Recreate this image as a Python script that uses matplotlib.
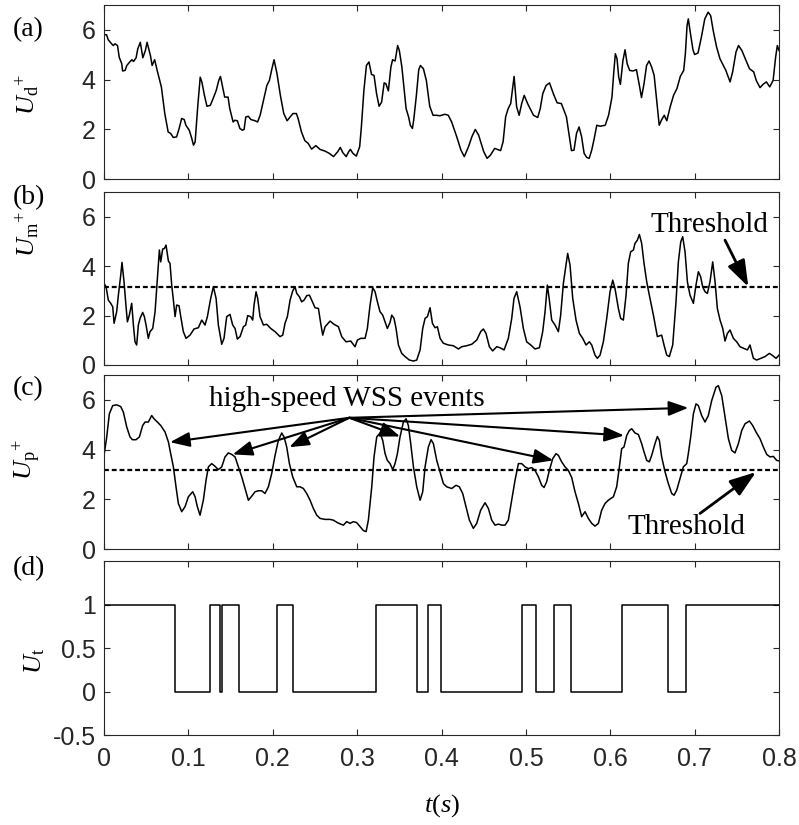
import matplotlib
matplotlib.use("Agg")
import matplotlib.pyplot as plt
from matplotlib.ticker import FuncFormatter

plt.rcParams['font.family'] = 'Liberation Sans'
plt.rcParams['mathtext.fontset'] = 'custom'
plt.rcParams['mathtext.rm'] = 'Liberation Serif'
plt.rcParams['mathtext.it'] = 'Liberation Serif:italic'
plt.rcParams['axes.unicode_minus'] = False

# ---- data ----
# (a) U_d+
t_a = [0.000, 0.003, 0.005, 0.009, 0.011, 0.013, 0.016, 0.018, 0.021, 0.022, 0.025, 0.027, 0.031, 0.033,
       0.035, 0.038, 0.040, 0.043, 0.046, 0.049, 0.051, 0.055, 0.057, 0.060, 0.063, 0.066, 0.068, 0.072,
       0.076, 0.079, 0.082, 0.086, 0.089, 0.092, 0.095, 0.097, 0.101, 0.104, 0.106, 0.108, 0.111, 0.114,
       0.116, 0.119, 0.122, 0.126, 0.130, 0.133, 0.136, 0.138, 0.141, 0.143, 0.147, 0.149, 0.153, 0.155,
       0.158, 0.161, 0.164, 0.166, 0.168, 0.171, 0.174, 0.179, 0.182, 0.185, 0.189, 0.193, 0.196, 0.199,
       0.2015, 0.205, 0.209, 0.213, 0.217, 0.2205, 0.224, 0.228, 0.230, 0.234, 0.238, 0.242, 0.246, 0.251,
       0.256, 0.262, 0.267, 0.272, 0.277, 0.280, 0.283, 0.287, 0.290, 0.292, 0.295, 0.299, 0.303, 0.305,
       0.308, 0.311, 0.314, 0.317, 0.320, 0.323, 0.326, 0.329, 0.332, 0.334, 0.337, 0.340, 0.342, 0.345,
       0.348, 0.350, 0.353, 0.356, 0.358, 0.361, 0.363, 0.3655, 0.367, 0.370, 0.373, 0.375, 0.3785, 0.382,
       0.386, 0.390, 0.394, 0.398, 0.404, 0.408, 0.412, 0.418, 0.423, 0.427, 0.432, 0.436, 0.440, 0.444,
       0.450, 0.454, 0.458, 0.463, 0.466, 0.470, 0.473, 0.476, 0.479, 0.482, 0.486, 0.489, 0.492, 0.495,
       0.498, 0.502, 0.505, 0.509, 0.514, 0.517, 0.520, 0.524, 0.528, 0.5325, 0.537, 0.542, 0.548, 0.5515,
       0.554, 0.557, 0.560, 0.563, 0.566, 0.569, 0.572, 0.575, 0.578, 0.581, 0.584, 0.588, 0.594, 0.598,
       0.602, 0.604, 0.606, 0.608, 0.610, 0.612, 0.615, 0.6175, 0.620, 0.623, 0.627, 0.631, 0.6345, 0.637,
       0.640, 0.643, 0.646, 0.649, 0.652, 0.655, 0.658, 0.661, 0.664, 0.667, 0.671, 0.675, 0.679, 0.683,
       0.687, 0.689, 0.691, 0.6925, 0.6945, 0.698, 0.700, 0.704, 0.708, 0.712, 0.716, 0.719, 0.722, 0.726,
       0.730, 0.734, 0.737, 0.742, 0.745, 0.749, 0.752, 0.756, 0.760, 0.765, 0.770, 0.773, 0.7775, 0.781,
       0.785, 0.789, 0.793, 0.796, 0.798, 0.800]
u_a = [5.81, 5.80, 5.60, 5.44, 5.37, 5.44, 5.37, 4.90, 4.64, 4.35, 4.37, 4.57, 4.73, 4.80,
       4.73, 4.88, 5.24, 5.50, 4.88, 5.17, 5.50, 4.97, 4.57, 4.80, 4.37, 3.97, 3.70, 2.64,
       1.90, 1.84, 1.68, 1.70, 2.04, 2.44, 2.40, 2.17, 1.97, 1.64, 1.37, 1.50, 2.90, 4.10,
       3.90, 3.37, 2.93, 2.97, 3.30, 3.57, 3.97, 4.13, 3.64, 3.30, 3.30, 2.84, 2.30, 2.37,
       2.35, 2.04, 1.97, 2.00, 2.50, 2.53, 2.40, 2.35, 2.30, 2.57, 3.17, 3.77, 3.97, 4.44,
       4.80, 4.24, 3.37, 2.64, 2.35, 2.50, 2.64, 2.64, 2.44, 1.90, 1.55, 1.44, 1.21, 1.35,
       1.20, 1.13, 1.04, 0.91, 1.11, 1.28, 1.07, 0.91, 1.11, 1.20, 1.04, 0.93, 1.31, 2.10,
       3.57, 4.57, 4.71, 4.21, 4.17, 3.44, 2.93, 3.10, 3.87, 3.84, 3.55, 4.51, 4.80, 4.75,
       5.37, 5.17, 4.51, 3.51, 2.84, 2.50, 2.17, 2.04, 2.37, 3.30, 4.40, 4.57, 4.44, 3.97,
       2.93, 2.57, 2.57, 2.55, 2.61, 2.57, 2.30, 1.71, 1.17, 0.91, 1.31, 1.71, 2.00, 1.77,
       1.11, 0.84, 0.97, 1.24, 1.20, 1.15, 1.51, 2.51, 2.84, 3.04, 4.13, 2.91, 2.57, 3.04,
       3.37, 3.04, 2.84, 2.57, 2.48, 2.84, 3.44, 3.77, 3.87, 3.44, 3.07, 3.04, 2.51, 1.71,
       1.15, 1.17, 1.84, 2.10, 1.71, 1.04, 0.88, 0.84, 1.17, 1.64, 2.17, 2.13, 2.17, 2.57,
       3.30, 4.24, 5.04, 4.84, 4.10, 3.81, 4.77, 5.20, 4.64, 4.37, 4.35, 4.40, 3.77, 3.28,
       3.84, 4.57, 4.75, 4.51, 4.17, 3.17, 2.17, 2.40, 2.57, 2.35, 2.91, 3.37, 3.64, 4.13,
       4.37, 5.04, 6.17, 6.44, 5.97, 5.20, 5.01, 5.07, 5.71, 6.44, 6.71, 6.57, 5.97, 5.31,
       4.84, 4.57, 4.37, 3.91, 4.31, 5.11, 5.37, 5.17, 4.84, 4.44, 4.31, 3.97, 3.68, 3.81,
       3.91, 3.71, 3.97, 4.91, 5.37, 5.17]

# (b) U_m+
t_b = [0.000, 0.0024, 0.0051, 0.0079, 0.0103, 0.0119, 0.0150, 0.0170, 0.0198, 0.0213, 0.0237, 0.0261,
       0.0277, 0.0300, 0.0328, 0.0348, 0.0367, 0.0387, 0.0407, 0.0427, 0.0458, 0.0478, 0.0498, 0.0525,
       0.0545, 0.0577, 0.0605, 0.0632, 0.0656, 0.0672, 0.0695, 0.0715, 0.0735, 0.0763, 0.0782, 0.0802,
       0.0822, 0.0842, 0.0861, 0.0889, 0.0913, 0.0940, 0.0972, 0.1019, 0.1067, 0.1118, 0.1158, 0.1197,
       0.1225, 0.1264, 0.1296, 0.1328, 0.1355, 0.1395, 0.1422, 0.1454, 0.1493, 0.1525, 0.1553, 0.1580,
       0.1612, 0.1652, 0.1679, 0.1703, 0.1738, 0.1762, 0.1778, 0.1802, 0.1821, 0.1849, 0.1889, 0.1928,
       0.1976, 0.2027, 0.2086, 0.2118, 0.2145, 0.2173, 0.2205, 0.2236, 0.2264, 0.2284, 0.2315, 0.2343,
       0.2371, 0.2402, 0.2434, 0.2461, 0.2501, 0.2541, 0.2568, 0.2592, 0.2620, 0.2679, 0.2726, 0.2778,
       0.2817, 0.2868, 0.2924, 0.2975, 0.3003, 0.3042, 0.3094, 0.3121, 0.3153, 0.3185, 0.3212, 0.3240,
       0.3271, 0.3303, 0.3331, 0.3358, 0.3390, 0.3410, 0.3437, 0.3461, 0.3489, 0.3528, 0.3568, 0.3619,
       0.3667, 0.3706, 0.3746, 0.3777, 0.3805, 0.3833, 0.3864, 0.3892, 0.3923, 0.3951, 0.3983, 0.4022,
       0.4081, 0.4140, 0.4200, 0.4239, 0.4298, 0.4358, 0.4417, 0.4464, 0.4496, 0.4527, 0.4567, 0.4606,
       0.4654, 0.4693, 0.4741, 0.4792, 0.4832, 0.4859, 0.4891, 0.4930, 0.4970, 0.5009, 0.5057, 0.5108,
       0.5160, 0.5199, 0.5227, 0.5254, 0.5278, 0.5306, 0.5345, 0.5385, 0.5412, 0.5444, 0.5476, 0.5495,
       0.5523, 0.5555, 0.5594, 0.5634, 0.5673, 0.5713, 0.5752, 0.5780, 0.5819, 0.5847, 0.5879, 0.5918,
       0.5958, 0.5997, 0.6029, 0.6056, 0.6096, 0.6123, 0.6155, 0.6187, 0.6214, 0.6242, 0.6274, 0.6293,
       0.6321, 0.6345, 0.6372, 0.6400, 0.6432, 0.6463, 0.6511, 0.6558, 0.6609, 0.6637, 0.6669, 0.6700,
       0.6740, 0.6779, 0.6807, 0.6835, 0.6858, 0.6886, 0.6914, 0.6945, 0.6985, 0.7016, 0.7044, 0.7071,
       0.7095, 0.7123, 0.7151, 0.7182, 0.7214, 0.7242, 0.7269, 0.7301, 0.7333, 0.7360, 0.7388, 0.7419,
       0.7459, 0.7498, 0.7538, 0.7585, 0.7625, 0.7656, 0.7696, 0.7735, 0.7783, 0.7834, 0.7886, 0.7925,
       0.7965, 0.8000]
u_b = [3.31, 3.17, 2.63, 2.50, 2.36, 1.69, 2.16, 2.83, 3.64, 4.16, 3.37, 2.36,
       1.75, 2.02, 2.50, 1.62, 0.94, 0.81, 1.62, 1.89, 2.13, 1.96, 1.62, 1.08,
       1.35, 1.48, 2.16, 3.51, 4.66, 4.18, 4.70, 4.72, 4.86, 4.21, 4.12, 3.24,
       2.63, 1.96, 2.43, 2.40, 1.89, 1.35, 1.08, 1.21, 1.46, 1.51, 1.82, 1.62,
       1.96, 2.70, 3.17, 2.70, 1.62, 0.84, 1.08, 1.96, 2.05, 1.62, 1.48, 1.05,
       1.15, 1.55, 1.62, 2.00, 1.96, 1.82, 2.43, 2.97, 2.70, 1.96, 1.62, 1.65,
       1.48, 1.35, 1.15, 1.21, 1.69, 1.96, 2.63, 3.00, 3.17, 2.90, 2.77, 2.56,
       2.63, 2.81, 2.83, 2.63, 2.32, 2.29, 1.69, 1.21, 1.55, 1.78, 1.65, 1.55,
       1.15, 0.94, 0.97, 0.74, 1.01, 1.08, 1.08, 1.48, 2.43, 3.13, 2.97, 2.56,
       2.16, 2.02, 1.75, 1.48, 1.73, 2.02, 1.89, 1.48, 0.81, 0.47, 0.34, 0.20,
       0.16, 0.20, 0.61, 1.48, 1.89, 1.96, 2.32, 1.69, 1.51, 1.55, 1.08, 0.88,
       0.81, 0.78, 0.65, 0.74, 0.78, 0.84, 1.01, 1.35, 1.46, 1.28, 0.74, 0.57,
       0.74, 0.70, 0.61, 1.08, 1.89, 2.70, 2.97, 2.36, 1.48, 0.94, 0.81, 0.65,
       0.70, 1.35, 2.16, 3.24, 2.63, 1.82, 1.62, 1.35, 2.02, 3.31, 4.05, 4.52,
       4.05, 2.70, 1.82, 1.28, 1.08, 0.81, 0.94, 0.81, 0.40, 0.27, 0.40, 0.94,
       1.89, 2.97, 3.44, 3.10, 2.29, 1.89, 1.82, 2.83, 4.12, 4.59, 4.66, 4.93,
       5.06, 5.29, 4.93, 4.12, 3.37, 2.83, 2.02, 1.15, 1.21, 0.81, 0.40, 0.34,
       0.81, 2.56, 4.18, 4.99, 5.20, 4.59, 3.37, 2.83, 2.50, 3.24, 3.78, 3.58,
       3.17, 2.97, 2.90, 3.37, 4.18, 3.37, 2.29, 1.82, 1.48, 0.97, 1.28, 1.42,
       1.08, 0.94, 0.74, 0.67, 0.61, 0.81, 0.27, 0.20, 0.27, 0.34, 0.47, 0.38,
       0.27, 0.40]

# (c) U_p+
t_c = [0.000, 0.0032, 0.0063, 0.0103, 0.0150, 0.0198, 0.0229, 0.0269, 0.0308, 0.0336, 0.0379, 0.0419,
       0.0458, 0.0486, 0.0525, 0.0565, 0.0593, 0.0632, 0.0672, 0.0723, 0.0763, 0.0790, 0.0822, 0.0853,
       0.0881, 0.0921, 0.0960, 0.1000, 0.1051, 0.1079, 0.1106, 0.1138, 0.1177, 0.1209, 0.1237, 0.1276,
       0.1316, 0.1355, 0.1395, 0.1434, 0.1474, 0.1513, 0.1553, 0.1592, 0.1632, 0.1671, 0.1711, 0.1750,
       0.1790, 0.1829, 0.1869, 0.1908, 0.1948, 0.1987, 0.2027, 0.2066, 0.2106, 0.2134, 0.2165, 0.2197,
       0.2236, 0.2284, 0.2323, 0.2363, 0.2402, 0.2442, 0.2481, 0.2521, 0.2560, 0.2620, 0.2679, 0.2718,
       0.2766, 0.2805, 0.2837, 0.2876, 0.2916, 0.2955, 0.2995, 0.3034, 0.3074, 0.3106, 0.3133, 0.3173,
       0.3200, 0.3232, 0.3271, 0.3303, 0.3331, 0.3358, 0.3390, 0.3422, 0.3449, 0.3477, 0.3508, 0.3548,
       0.3580, 0.3607, 0.3635, 0.3667, 0.3706, 0.3746, 0.3777, 0.3805, 0.3844, 0.3876, 0.3904, 0.3943,
       0.3983, 0.4022, 0.4061, 0.4121, 0.4172, 0.4211, 0.4251, 0.4290, 0.4330, 0.4377, 0.4417, 0.4464,
       0.4516, 0.4555, 0.4595, 0.4634, 0.4674, 0.4713, 0.4753, 0.4792, 0.4832, 0.4871, 0.4911, 0.4950,
       0.4990, 0.5029, 0.5069, 0.5108, 0.5148, 0.5187, 0.5215, 0.5246, 0.5278, 0.5318, 0.5357, 0.5385,
       0.5424, 0.5464, 0.5503, 0.5543, 0.5582, 0.5622, 0.5661, 0.5701, 0.5740, 0.5780, 0.5819, 0.5859,
       0.5898, 0.5938, 0.5977, 0.6037, 0.6076, 0.6108, 0.6135, 0.6163, 0.6195, 0.6226, 0.6254, 0.6293,
       0.6333, 0.6372, 0.6400, 0.6432, 0.6463, 0.6491, 0.6530, 0.6558, 0.6582, 0.6609, 0.6649, 0.6688,
       0.6728, 0.6756, 0.6787, 0.6827, 0.6866, 0.6906, 0.6925, 0.6953, 0.6985, 0.7016, 0.7044, 0.7083,
       0.7123, 0.7162, 0.7202, 0.7253, 0.7281, 0.7321, 0.7360, 0.7400, 0.7439, 0.7478, 0.7518, 0.7558,
       0.7597, 0.7649, 0.7688, 0.7727, 0.7775, 0.7814, 0.7854, 0.7893, 0.7933, 0.7972, 0.8000]
u_c = [3.77, 4.51, 5.44, 5.77, 5.80, 5.73, 5.51, 4.91, 4.51, 4.40, 4.40, 4.51,
       4.97, 5.11, 5.11, 5.37, 5.24, 5.11, 4.97, 4.71, 4.31, 3.84, 3.31, 2.51,
       1.84, 1.51, 1.71, 2.11, 2.31, 2.11, 1.71, 1.37, 1.97, 2.77, 3.31, 3.44,
       3.33, 3.20, 3.31, 3.71, 3.87, 3.81, 3.71, 3.31, 2.91, 2.44, 1.97, 2.13,
       2.31, 2.35, 2.35, 2.24, 2.51, 3.04, 3.77, 4.37, 4.67, 4.51, 4.11, 3.44,
       2.91, 2.51, 2.51, 2.44, 2.24, 1.97, 1.64, 1.37, 1.24, 1.20, 1.20, 1.17,
       1.07, 1.01, 0.97, 1.11, 1.04, 1.11, 1.07, 0.91, 0.75, 0.71, 1.17, 2.51,
       3.71, 4.51, 4.67, 4.37, 3.84, 3.57, 3.44, 3.20, 3.44, 3.84, 4.51, 5.11,
       5.24, 4.97, 4.24, 3.31, 2.51, 1.97, 2.31, 3.31, 4.11, 4.40, 4.24, 3.57,
       3.10, 2.64, 2.51, 2.44, 2.57, 2.51, 2.24, 1.71, 1.17, 0.84, 1.04, 1.57,
       1.87, 1.64, 1.17, 0.97, 1.01, 0.97, 0.97, 1.17, 1.97, 2.77, 3.44, 3.44,
       3.31, 3.24, 3.28, 3.17, 2.91, 2.57, 2.48, 2.71, 3.17, 3.64, 3.84, 3.77,
       3.51, 3.31, 3.17, 2.88, 2.31, 1.84, 1.31, 1.51, 1.24, 1.04, 0.93, 1.04,
       1.57, 1.84, 1.97, 2.11, 2.51, 3.31, 4.04, 4.11, 4.57, 4.77, 4.84, 4.67,
       4.61, 4.24, 3.91, 3.57, 3.51, 3.77, 4.24, 4.53, 4.37, 3.71, 3.11, 2.64,
       2.24, 2.17, 2.37, 2.84, 3.31, 3.44, 3.84, 4.51, 5.44, 5.84, 5.77, 5.37,
       5.11, 5.37, 5.97, 6.51, 6.57, 6.17, 5.31, 4.44, 3.97, 3.87, 4.24, 4.77,
       5.04, 5.15, 4.97, 4.71, 4.44, 4.11, 3.81, 3.71, 3.73, 3.57, 3.55]

# (d) U_t: switching times and the level that starts at each one
t_switch = [0.0, 0.0842, 0.126, 0.1375, 0.1399, 0.1604, 0.2047, 0.2244, 0.3224, 0.3706,
            0.3836, 0.3998, 0.495, 0.512, 0.5333, 0.5535, 0.6135, 0.6684, 0.6898, 0.8]
u_levels = [1, 0, 1, 0, 1, 0, 1, 0, 1, 0, 1, 0, 1, 0, 1, 0, 1, 0, 1, 1]

threshold = 3.17

# arrows in (c): common tail and the event peaks they point at
event_tail = (0.2907, 5.28)
event_t = [0.0782, 0.1525, 0.2196, 0.3508, 0.5325, 0.6163, 0.6925]
event_u = [4.30, 3.81, 4.10, 4.53, 3.57, 4.57, 5.68]

# ---- figure ----
fig = plt.figure(figsize=(7.99, 8.25), dpi=100)
left, width = 0.1302, 0.8448
ax_a = fig.add_axes([left, 0.7827, width, 0.2113])
ax_b = fig.add_axes([left, 0.5576, width, 0.2093])
ax_c = fig.add_axes([left, 0.3342, width, 0.2113])
ax_d = fig.add_axes([left, 0.1085, width, 0.2109])
axes = [ax_a, ax_b, ax_c, ax_d]

edge = '#262626'
fmt = FuncFormatter(lambda v, p: f'{v:g}')
for ax in axes:
    ax.set_xlim(0, 0.8)
    ax.set_xticks([0, 0.1, 0.2, 0.3, 0.4, 0.5, 0.6, 0.7, 0.8])
    ax.tick_params(direction='in', top=True, right=True, length=4.3, width=0.8,
                   labelsize=18, colors=edge, pad=6)
    ax.tick_params(axis='x', pad=8)
    ax.xaxis.set_major_formatter(fmt)
    ax.yaxis.set_major_formatter(fmt)
    for s in ax.spines.values():
        s.set_color(edge)
        s.set_linewidth(0.8)
    if ax is not ax_d:
        ax.tick_params(labelbottom=False)
        ax.set_ylim(0, 7)
        ax.set_yticks([0, 2, 4, 6])

ax_a.plot(t_a, u_a, color='k', lw=1.1)
ax_b.plot(t_b, u_b, color='k', lw=1.1)
ax_c.plot(t_c, u_c, color='k', lw=1.1)
for ax in (ax_b, ax_c):
    ax.axhline(threshold, color='k', lw=1.6, linestyle=(0, (2.2, 1.3)))

ax_d.step(t_switch, u_levels, where='post', color='k', lw=1.1)
ax_d.set_ylim(-0.5, 1.5)
ax_d.set_yticks([-0.5, 0, 0.5, 1])

serif = 'Liberation Serif'

# labels
ylabels = [r'${U_{\mathrm{d}}}^{+}$', r'${U_{\mathrm{m}}}^{+}$', r'${U_{\mathrm{p}}}^{+}$', r'$U_{\mathrm{t}}$']
ycoords = [(-0.114, 0.484), (-0.114, 0.759), (-0.114, 0.512), (-0.102, 0.428)]
for ax, lab, (xc, yc) in zip(axes, ylabels, ycoords):
    ax.set_ylabel(lab, fontsize=19, va='center', ha='center')
    ax.yaxis.set_label_coords(xc, yc)

ax_d.set_xlabel(r'$t(s)$', fontsize=19, va='center')
ax_d.xaxis.set_label_coords(0.5, -0.40)

for lab, y in zip(['(a)', '(b)', '(c)', '(d)'], [0.9636, 0.760, 0.5285, 0.3103]):
    fig.text(0.016, y, lab, fontsize=20, family=serif, va='center', ha='left')

# annotations
ax_b.text(0.717, 5.67, 'Threshold', fontsize=21, family=serif, ha='center', va='center')
ax_b.annotate('', xy=(0.7636, threshold), xytext=(0.736, 5.06),
              arrowprops=dict(arrowstyle='-|>,head_length=0.8,head_width=0.28',
                              color='k', lw=2.0, mutation_scale=20, shrinkA=0, shrinkB=0))

ax_c.text(0.288, 6.05, 'high-speed WSS events', fontsize=21, family=serif,
          ha='center', va='center')
for et, eu in zip(event_t, event_u):
    ax_c.annotate('', xy=(et, eu), xytext=event_tail,
                  arrowprops=dict(arrowstyle='-|>,head_length=0.8,head_width=0.3',
                                  color='k', lw=1.5, mutation_scale=15, shrinkA=0, shrinkB=0))

ax_c.text(0.69, 0.89, 'Threshold', fontsize=21, family=serif, ha='center', va='center')
ax_c.annotate('', xy=(0.7727, 3.1), xytext=(0.7064, 1.44),
              arrowprops=dict(arrowstyle='-|>,head_length=0.8,head_width=0.28',
                              color='k', lw=2.0, mutation_scale=20, shrinkA=0, shrinkB=0))

fig.savefig('out.png', dpi=100)
